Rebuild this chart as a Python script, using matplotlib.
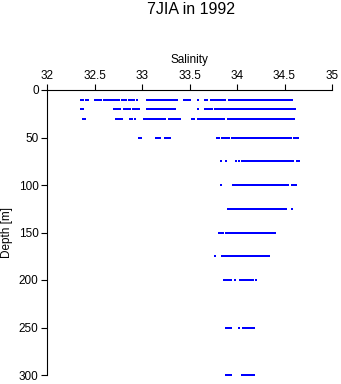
import numpy as np
import matplotlib
matplotlib.use("Agg")
import matplotlib.pyplot as plt

plt.rcParams['font.family'] = ['Liberation Sans', 'DejaVu Sans']

# CTD casts along line 7J, salinity observations by standard depth
depths = [10, 20, 30, 50, 75, 100, 125, 150, 175, 200, 250, 300]

sal_10 = [32.36, 32.38, 32.41, 32.43, 32.51, 32.53, 32.55, 32.57,
          32.60, 32.62, 32.64, 32.66, 32.68, 32.70, 32.72, 32.74, 32.76,
          32.79, 32.81, 32.83, 32.86, 32.88, 32.90, 32.92, 32.95,
          33.05, 33.07, 33.09, 33.11, 33.13, 33.15, 33.17, 33.19, 33.21,
          33.23, 33.25, 33.27, 33.29, 33.31, 33.33, 33.35, 33.37,
          33.44, 33.46, 33.48, 33.50, 33.59, 33.66, 33.68,
          33.73, 33.75, 33.77, 33.79, 33.81, 33.83, 33.85, 33.87,
          33.92, 33.94, 33.96, 33.98, 34.00, 34.02, 34.04, 34.06, 34.08,
          34.10, 34.12, 34.14, 34.16, 34.18, 34.20, 34.22, 34.24, 34.26,
          34.28, 34.30, 34.32, 34.34, 34.36, 34.38, 34.40, 34.42, 34.44,
          34.46, 34.48, 34.50, 34.52, 34.54, 34.56, 34.58]
sal_20 = [32.36, 32.38, 32.71, 32.73, 32.75, 32.77,
          32.81, 32.83, 32.85, 32.87, 32.91, 32.93, 32.95, 32.97,
          33.05, 33.07, 33.09, 33.11, 33.13, 33.15, 33.17, 33.19, 33.21,
          33.23, 33.25, 33.27, 33.29, 33.31, 33.33, 33.35, 33.59,
          33.66, 33.68, 33.70, 33.72, 33.74, 33.77, 33.79,
          33.81, 33.83, 33.85, 33.87, 33.89, 33.91, 33.93, 33.95, 33.97,
          33.99, 34.01, 34.03, 34.05, 34.07, 34.09, 34.11, 34.13, 34.15,
          34.17, 34.19, 34.21, 34.23, 34.25, 34.27, 34.29, 34.31, 34.33,
          34.35, 34.37, 34.39, 34.41, 34.43, 34.45, 34.47, 34.49, 34.51,
          34.53, 34.55, 34.57, 34.59, 34.61]
sal_30 = [32.38, 32.40, 32.73, 32.75, 32.77, 32.79, 32.87, 32.89, 32.93,
          33.02, 33.04, 33.06, 33.08, 33.10, 33.12, 33.14, 33.16, 33.18,
          33.20, 33.22, 33.24, 33.28, 33.30, 33.32, 33.34, 33.36, 33.38,
          33.40, 33.53, 33.55,
          33.59, 33.61, 33.63, 33.65, 33.67, 33.69,
          33.72, 33.74, 33.76, 33.78, 33.80, 33.82, 33.84, 33.86,
          33.90, 33.92, 33.94, 33.96, 33.98, 34.00, 34.02, 34.04, 34.06,
          34.08, 34.10, 34.12, 34.14, 34.16, 34.18, 34.20, 34.22, 34.24,
          34.26, 34.28, 34.30, 34.32, 34.34, 34.36, 34.38, 34.40, 34.42,
          34.44, 34.46, 34.48, 34.50, 34.52, 34.54, 34.56, 34.58, 34.60]
sal_50 = [32.97, 32.99, 33.15, 33.17, 33.19, 33.24, 33.26, 33.28, 33.30,
          33.79, 33.81, 33.84, 33.86, 33.88, 33.90, 33.92,
          33.95, 33.97, 33.99, 34.01, 34.03, 34.05, 34.07, 34.09, 34.11,
          34.13, 34.15, 34.17, 34.19, 34.21, 34.23, 34.25, 34.27, 34.29,
          34.31, 34.33, 34.35, 34.37, 34.39, 34.41, 34.43, 34.45, 34.47,
          34.49, 34.51, 34.53, 34.55, 34.57, 34.60, 34.62, 34.64]
sal_75 = [33.83, 33.88, 33.99, 34.02, 34.05, 34.07, 34.09, 34.11, 34.13,
          34.15, 34.17, 34.19, 34.21, 34.23, 34.25, 34.27, 34.29, 34.31,
          34.33, 34.35, 34.37, 34.39, 34.41, 34.43, 34.45, 34.47, 34.49,
          34.51, 34.53, 34.55, 34.57, 34.59, 34.63, 34.65]
sal_100 = [33.83, 33.96, 33.98, 34.00, 34.02, 34.04, 34.06, 34.08, 34.10,
           34.12, 34.14, 34.16, 34.18, 34.20, 34.22, 34.24, 34.26, 34.28,
           34.30, 34.32, 34.34, 34.36, 34.38, 34.40, 34.42, 34.44, 34.46,
           34.48, 34.50, 34.52, 34.54, 34.58, 34.60, 34.62]
sal_125 = [33.90, 33.92, 33.94, 33.96, 33.98, 34.00, 34.02, 34.04, 34.06,
           34.08, 34.10, 34.12, 34.14, 34.16, 34.18, 34.20, 34.22, 34.24,
           34.26, 34.28, 34.30, 34.32, 34.34, 34.36, 34.38, 34.40, 34.42,
           34.44, 34.46, 34.48, 34.50, 34.52, 34.58]
sal_150 = [33.81, 33.83, 33.85, 33.88, 33.90, 33.92, 33.94, 33.96, 33.98,
           34.00, 34.02, 34.04, 34.06, 34.08, 34.10, 34.12, 34.14, 34.16,
           34.18, 34.20, 34.22, 34.24, 34.26, 34.28, 34.30, 34.32, 34.34,
           34.36, 34.38, 34.40]
sal_175 = [33.77, 33.84, 33.86, 33.88, 33.90, 33.92, 33.94, 33.96, 33.98,
           34.00, 34.02, 34.04, 34.06, 34.08, 34.10, 34.12, 34.14, 34.16,
           34.18, 34.20, 34.22, 34.24, 34.26, 34.28, 34.30, 34.32, 34.34]
sal_200 = [33.86, 33.88, 33.90, 33.92, 33.94, 33.98, 34.03, 34.05, 34.07,
           34.09, 34.11, 34.13, 34.15, 34.17, 34.20]
sal_250 = [33.88, 33.90, 33.92, 33.94, 34.02, 34.06, 34.08, 34.10, 34.12,
           34.14, 34.16, 34.18]
sal_300 = [33.88, 33.90, 33.92, 33.94, 34.05, 34.07, 34.09, 34.11, 34.13,
           34.15, 34.17, 34.18]

salinity = [sal_10, sal_20, sal_30, sal_50, sal_75, sal_100, sal_125,
            sal_150, sal_175, sal_200, sal_250, sal_300]

xticks = [32, 32.5, 33, 33.5, 34, 34.5, 35]
xticklabels = ['32', '32.5', '33', '33.5', '34', '34.5', '35']
yticks = [0, 50, 100, 150, 200, 250, 300]

fig = plt.figure(figsize=(3.41, 3.84), dpi=100)
ax = fig.add_axes([47/341, 1 - 375/384, 285/341, 285/384])
# title centred over the plotting area
fig.text(191/341, 1 - 13.5/384, '7JIA in 1992', ha='center', va='baseline',
         fontsize=11.5)

for d, s in zip(depths, salinity):
    ax.plot(s, np.full(len(s), d), linestyle='none', marker='s',
            markersize=1.7, markeredgewidth=0, color='#0000ff', clip_on=False)

ax.set_xlim(32, 35)
ax.set_ylim(300, 0)
ax.xaxis.tick_top()
ax.xaxis.set_label_position('top')
ax.set_xticks(xticks)
ax.set_xticklabels(xticklabels)
ax.set_yticks(yticks)
ax.set_xlabel('Salinity', fontsize=8.5, labelpad=5)
ax.set_ylabel('Depth [m]', fontsize=8.5, labelpad=4)
ax.tick_params(labelsize=8.5, length=4, width=0.8, pad=2)
ax.spines['right'].set_visible(False)
ax.spines['bottom'].set_visible(False)
ax.spines['top'].set_linewidth(0.8)
ax.spines['left'].set_linewidth(0.8)

fig.savefig('out.png', dpi=100)
